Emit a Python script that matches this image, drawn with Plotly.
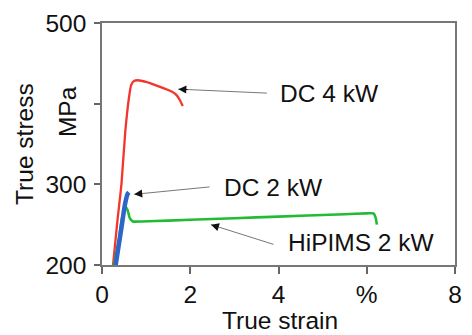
import plotly.graph_objects as go

# Data
red_x = [0.25, 0.35, 0.44, 0.53, 0.61, 0.66, 0.72, 0.81, 1.0, 1.21, 1.45, 1.58, 1.70, 1.77, 1.83]
red_y = [200, 255, 300, 367, 407, 423, 428, 429, 427, 423, 418, 415, 410, 404, 397]

green_x = [0.27, 0.38, 0.44, 0.50, 0.53, 0.58, 0.63, 0.70, 0.9, 1.5, 2.5, 3.5, 4.5, 5.5, 6.0, 6.15, 6.2, 6.23]
green_y = [200, 230, 254, 268, 272, 268, 258, 254, 254, 255, 257, 259, 261, 263, 264, 264, 259, 250]

blue_x = [0.31, 0.38, 0.44, 0.52, 0.58, 0.61]
blue_y = [200, 225, 246, 275, 288, 290]

x_tickvals = [0, 2, 4, 6, 8]
x_ticktext = ["0", "2", "4", "%", "8"]
y_tickvals = [200, 300, 400, 500]
y_ticktext = ["200", "300", "", "500"]

labels = ["DC 4 kW", "DC 2 kW", "HiPIMS 2 kW"]
label_pos = [(3.98, 412), (2.73, 296), (4.18, 228)]
arrow_tail = [(3.77, 413), (2.47, 297), (3.92, 225)]
arrow_head = [(1.73, 418), (0.73, 287.6), (2.47, 250)]

FONT = "Liberation Sans, Arial, sans-serif"
FS = 24.5

fig = go.Figure()
fig.add_trace(go.Scatter(x=red_x, y=red_y, mode="lines", line=dict(color="#f2362b", width=2.3, shape="spline", smoothing=0.5)))
fig.add_trace(go.Scatter(x=green_x, y=green_y, mode="lines", line=dict(color="#22bb33", width=2.6, shape="spline", smoothing=0.5)))
fig.add_trace(go.Scatter(x=blue_x, y=blue_y, mode="lines", line=dict(color="#2c66c8", width=4.5, shape="spline", smoothing=0.5)))

annotations = []
for lab, (lx, ly), (tx, ty), (hx, hy) in zip(labels, label_pos, arrow_tail, arrow_head):
    annotations.append(dict(x=lx, y=ly, xref="x", yref="y", text=lab, showarrow=False,
                            xanchor="left", yanchor="middle", font=dict(family=FONT, size=FS, color="#111")))
    annotations.append(dict(x=hx, y=hy, ax=tx, ay=ty, xref="x", yref="y", axref="x", ayref="y",
                            text="", showarrow=True, arrowhead=0, arrowwidth=1, arrowcolor="#777"))
    annotations.append(dict(x=hx, y=hy, ax=hx + (tx - hx) * 0.12, ay=hy + (ty - hy) * 0.12,
                            xref="x", yref="y", axref="x", ayref="y",
                            text="", showarrow=True, arrowhead=2, arrowsize=1.6, arrowwidth=1, arrowcolor="#111"))

annotations.append(dict(x=-0.219, y=0.499, xref="paper", yref="paper", text="True stress", textangle=-90,
                        showarrow=False, xanchor="center", yanchor="middle", font=dict(family=FONT, size=FS, color="#111")))
annotations.append(dict(x=-0.097, y=0.635, xref="paper", yref="paper", text="MPa", textangle=-90,
                        showarrow=False, xanchor="center", yanchor="middle", font=dict(family=FONT, size=FS, color="#111")))
annotations.append(dict(x=0.503, y=-0.228, xref="paper", yref="paper", text="True strain",
                        showarrow=False, xanchor="center", yanchor="middle", font=dict(family=FONT, size=FS, color="#111")))

fig.update_layout(
    width=472, height=335,
    margin=dict(l=102, r=10, t=16, b=70),
    paper_bgcolor="white", plot_bgcolor="white",
    showlegend=False,
    annotations=annotations,
    font=dict(family=FONT, size=FS, color="#111"),
)
fig.update_xaxes(range=[0, 8], tickvals=x_tickvals, ticktext=x_ticktext, ticks="outside", ticklen=7,
                 tickcolor="#666", tickwidth=1.5, showline=True, linecolor="#777", linewidth=1.5,
                 mirror=True, showgrid=False, zeroline=False, tickfont=dict(family=FONT, size=FS, color="#111"))
fig.update_yaxes(range=[200, 500], tickvals=y_tickvals, ticktext=y_ticktext, ticks="outside", ticklen=6,
                 tickcolor="#666", tickwidth=1.5, showline=True, linecolor="#777", linewidth=1.5,
                 mirror=True, showgrid=False, zeroline=False, ticklabelstandoff=3,
                 tickfont=dict(family=FONT, size=FS, color="#111"))

fig.write_html("out.html")
